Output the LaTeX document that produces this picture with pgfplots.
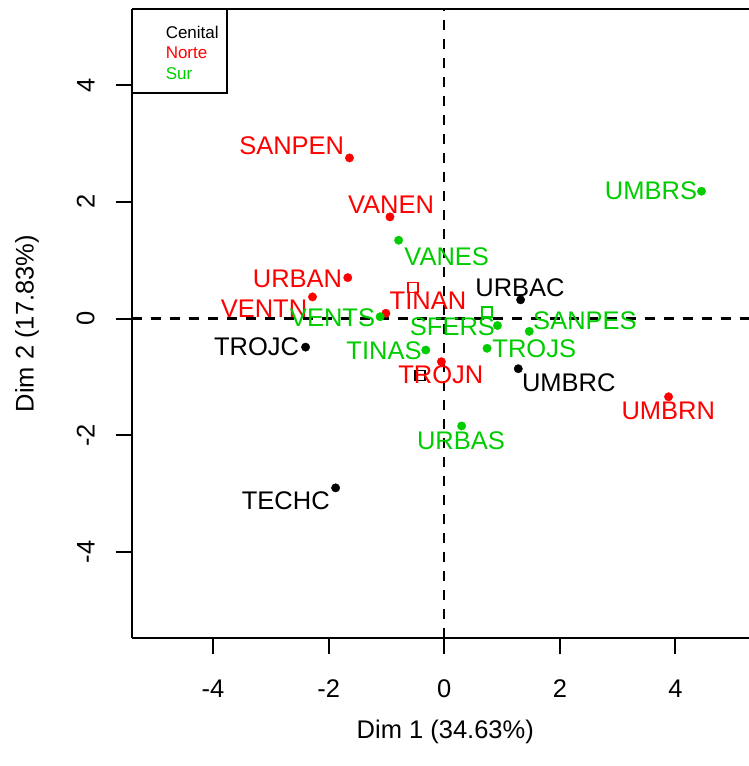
\documentclass[border=0pt]{standalone}
\usepackage{pgfplots}
\pgfplotsset{compat=1.18}
\usepackage{pgfplotstable}
\usepackage{fontspec}
\setmainfont{Liberation Sans}
\definecolor{rgreen}{RGB}{0,205,0}
\definecolor{rred}{RGB}{255,0,0}
\newcommand\lab{\fontsize{25.5bp}{30bp}\selectfont}
\newcommand\leg{\fontsize{17bp}{20bp}\selectfont}

\pgfplotstableread{
x y lx ly label
1.32 0.32 1.310 0.531 URBAC
1.28 -0.86 2.154 -1.104 UMBRC
-2.40 -0.49 -3.246 -0.483 TROJC
-1.88 -2.90 -2.742 -3.128 TECHC
}\cenital
\pgfplotstableread{
x y lx ly label
-1.64 2.75 -2.640 2.962 SANPEN
-0.94 1.74 -0.922 1.943 VANEN
-1.67 0.70 -2.540 0.673 URBAN
-2.28 0.37 -3.119 0.166 VENTN
-1.01 0.09 -0.282 0.303 TINAN
-0.05 -0.74 -0.061 -0.967 TROJN
3.88 -1.34 3.875 -1.587 UMBRN
}\norte
\pgfplotstableread{
x y lx ly label
-0.79 1.34 0.042 1.058 VANES
-1.11 0.03 -1.934 0.012 VENTS
0.92 -0.12 0.142 -0.140 SFERS
1.47 -0.22 2.434 -0.034 SANPES
0.74 -0.51 1.557 -0.519 TROJS
-0.32 -0.54 -1.043 -0.545 TINAS
0.30 -1.84 0.289 -2.094 URBAS
4.45 2.18 3.576 2.183 UMBRS
}\sur

\pgfplotsset{every non boxed x axis/.style={}, every non boxed y axis/.style={}}

\begin{document}
\begin{tikzpicture}
\begin{axis}[
  at={(131.7bp,127.7bp)}, anchor=south west,
  scale only axis, width=617.3bp, height=629.3bp,
  xmin=-5.408, xmax=5.272, ymin=-5.476, ymax=5.30,
  axis x line*=box, axis y line*=left,
  axis line style={-, line width=2bp, black},
  xtick={-4,-2,0,2,4}, xticklabels={-4,-2,0,2,4},
  ytick={-4,-2,0,2,4}, yticklabels={-4,-2,0,2,4},
  xtick pos=left, ytick pos=left,
  tick align=outside, major tick length=16bp,
  every tick/.style={black, line width=2bp},
  tick label style={font=\lab, inner sep=0pt},
  xticklabel style={anchor=north, yshift=-25bp},
  yticklabel style={rotate=90, anchor=south, yshift=21bp},
  xlabel={Dim 1 (34.63\%)}, ylabel={Dim 2 (17.83\%)},
  label style={font=\lab, inner sep=0pt},
  xlabel style={at={(axis description cs:0.508,-0.1489)}, anchor=center},
  ylabel style={at={(axis description cs:-0.1696,0.5)}, anchor=center},
  clip=false,
  legend cell align=left,
  legend style={at={(0,1)}, anchor=north west, draw=black, line width=1.5bp,
    fill=white, inner xsep=8.4bp, inner ysep=10.6bp, font=\leg,
    row sep=0pt, column sep=0pt,
    nodes={inner sep=0pt, text height=17.7bp, text depth=3bp}},
]
% dashed reference lines
\addplot[forget plot, black, line width=2.2bp, dash pattern=on 10bp off 9bp] coordinates {(0,-5.476) (0,5.30)};
\addplot[forget plot, black, line width=2.2bp, dash pattern=on 10bp off 9bp] coordinates {(-5.408,0) (5.272,0)};
% points
\addplot[forget plot, only marks, mark=*, mark size=4.2bp, black] table[x=x,y=y]{\cenital};
\addplot[forget plot, only marks, mark=*, mark size=4.2bp, rred, mark options={fill=rred}] table[x=x,y=y]{\norte};
\addplot[forget plot, only marks, mark=*, mark size=4.2bp, rgreen, mark options={fill=rgreen}] table[x=x,y=y]{\sur};
% centroids
\addplot[forget plot, only marks, mark=square, mark size=5bp, black, line width=1.5bp] coordinates {(-0.42,-0.98)};
\addplot[forget plot, only marks, mark=square, mark size=5bp, rred, line width=1.5bp] coordinates {(-0.54,0.53)};
\addplot[forget plot, only marks, mark=square, mark size=5bp, rgreen, line width=1.5bp] coordinates {(0.74,0.11)};
% labels
\addplot[forget plot, draw=none, nodes near coords, point meta=explicit symbolic,
  every node near coord/.style={anchor=center, inner sep=0pt, font=\lab, text=black}]
  table[x=lx,y=ly,meta=label]{\cenital};
\addplot[forget plot, draw=none, nodes near coords, point meta=explicit symbolic,
  every node near coord/.style={anchor=center, inner sep=0pt, font=\lab, text=rred}]
  table[x=lx,y=ly,meta=label]{\norte};
\addplot[forget plot, draw=none, nodes near coords, point meta=explicit symbolic,
  every node near coord/.style={anchor=center, inner sep=0pt, font=\lab, text=rgreen}]
  table[x=lx,y=ly,meta=label]{\sur};
% legend
\addlegendimage{draw=none, legend image code/.code={\path[draw=none, fill=none] (0,0) -- (24.9bp,0);}}
\addlegendentry{\textcolor{black}{Cenital}}
\addlegendimage{draw=none, legend image code/.code={\path[draw=none, fill=none] (0,0) -- (24.9bp,0);}}
\addlegendentry{\textcolor{rred}{Norte}}
\addlegendimage{draw=none, legend image code/.code={\path[draw=none, fill=none] (0,0) -- (24.9bp,0);}}
\addlegendentry{\textcolor{rgreen}{Sur}}
\end{axis}
\pgfresetboundingbox
\path (0,0) rectangle (749bp,766bp);
\end{tikzpicture}
\end{document}
